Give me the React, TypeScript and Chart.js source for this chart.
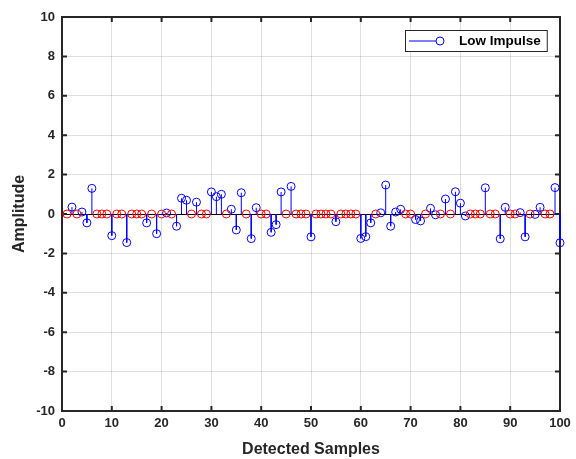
import React, { useEffect, useRef } from "react";
import { Chart, registerables } from "chart.js";

Chart.register(...registerables);

// ---- data ----
const sampleIndex = [
  1, 2, 3, 4, 5, 6, 7, 8, 9, 10,
  11, 12, 13, 14, 15, 16, 17, 18, 19, 20,
  21, 22, 23, 24, 25, 26, 27, 28, 29, 30,
  31, 32, 33, 34, 35, 36, 37, 38, 39, 40,
  41, 42, 43, 44, 45, 46, 47, 48, 49, 50,
  51, 52, 53, 54, 55, 56, 57, 58, 59, 60,
  61, 62, 63, 64, 65, 66, 67, 68, 69, 70,
  71, 72, 73, 74, 75, 76, 77, 78, 79, 80,
  81, 82, 83, 84, 85, 86, 87, 88, 89, 90,
  91, 92, 93, 94, 95, 96, 97, 98, 99, 100,
];

const amplitude = [
  0, 0.35, 0, 0.1, -0.45, 1.3, 0, 0, 0, -1.1,
  0, 0, -1.45, 0, 0, 0, -0.45, 0, -1.0, 0,
  0.05, 0, -0.62, 0.8, 0.7, 0, 0.6, 0, 0, 1.12,
  0.88, 1.0, 0, 0.24, -0.81, 1.08, 0, -1.25, 0.32, 0,
  0, -0.93, -0.54, 1.12, 0, 1.4, 0, 0, 0, -1.16,
  0, 0, 0, 0, -0.39, 0, 0, 0, 0, -1.24,
  -1.15, -0.45, 0, 0.06, 1.47, -0.62, 0.1, 0.24, 0, 0,
  -0.28, -0.35, 0, 0.29, -0.04, 0, 0.76, 0, 1.13, 0.55,
  -0.1, 0, 0, 0, 1.33, 0, 0, -1.26, 0.34, 0,
  0, 0.07, -1.16, 0, -0.02, 0.34, 0, 0, 1.34, -1.46,
];

const xTickValues = [0, 10, 20, 30, 40, 50, 60, 70, 80, 90, 100];
const yTickValues = [-10, -8, -6, -4, -2, 0, 2, 4, 6, 8, 10];
const legendLabel = "Low Impulse";
const xTitle = "Detected Samples";
const yTitle = "Amplitude";

// ---- styles ----
const BLUE = "#0000ff";
const RED = "#ff0000";
const AXIS = "#262626";
const GRID = "rgba(38,38,38,0.15)";
const FONT = '"Liberation Sans", Arial, Helvetica, sans-serif';
const MARKER_R = 4;

const framePlugin = {
  id: "matlabFrame",
  beforeDatasetsDraw(chart: any) {
    const { ctx, chartArea, scales } = chart;
    const { left, right, top, bottom } = chartArea;
    ctx.save();
    // zero baseline
    const y0 = scales.y.getPixelForValue(0);
    ctx.strokeStyle = "#000";
    ctx.lineWidth = 1;
    ctx.beginPath();
    ctx.moveTo(scales.x.getPixelForValue(0), Math.round(y0) + 0.5);
    ctx.lineTo(scales.x.getPixelForValue(100), Math.round(y0) + 0.5);
    ctx.stroke();
    // frame
    ctx.strokeStyle = AXIS;
    ctx.lineWidth = 2;
    ctx.strokeRect(left, top, right - left, bottom - top);
    // inward ticks
    const tl = 5;
    ctx.beginPath();
    xTickValues.forEach((v) => {
      const px = scales.x.getPixelForValue(v);
      ctx.moveTo(px, bottom);
      ctx.lineTo(px, bottom - tl);
      ctx.moveTo(px, top);
      ctx.lineTo(px, top + tl);
    });
    yTickValues.forEach((v) => {
      const py = scales.y.getPixelForValue(v);
      ctx.moveTo(left, py);
      ctx.lineTo(left + tl, py);
      ctx.moveTo(right, py);
      ctx.lineTo(right - tl, py);
    });
    ctx.stroke();
    ctx.restore();
  },
};

const legendPlugin = {
  id: "stemLegend",
  afterDraw(chart: any) {
    const { ctx, chartArea } = chart;
    ctx.save();
    ctx.font = `bold 13.5px ${FONT}`;
    const tw = ctx.measureText(legendLabel).width;
    const boxW = 54 + tw + 6;
    const boxH = 21;
    const right = chartArea.right - 13;
    const left = Math.round(right - boxW);
    const top = chartArea.top + 13;
    ctx.fillStyle = "#fff";
    ctx.fillRect(left, top, boxW, boxH);
    ctx.strokeStyle = AXIS;
    ctx.lineWidth = 1;
    ctx.strokeRect(left + 0.5, top + 0.5, boxW, boxH);
    const cy = top + boxH / 2 + 0.5;
    ctx.strokeStyle = BLUE;
    ctx.beginPath();
    ctx.moveTo(left + 4, cy);
    ctx.lineTo(left + 36, cy);
    ctx.stroke();
    ctx.beginPath();
    ctx.arc(left + 35, cy, MARKER_R, 0, Math.PI * 2);
    ctx.fillStyle = "#fff";
    ctx.fill();
    ctx.stroke();
    ctx.fillStyle = "#000";
    ctx.textBaseline = "middle";
    ctx.textAlign = "left";
    ctx.fillText(legendLabel, left + 54, cy + 0.5);
    ctx.restore();
  },
};

export default function App() {
  const canvasRef = useRef<HTMLCanvasElement | null>(null);

  useEffect(() => {
    document.body.style.margin = "0";
    const canvas = canvasRef.current;
    if (!canvas) return;

    const stemData: any[] = [];
    const bluePts: any[] = [];
    const redPts: any[] = [];
    sampleIndex.forEach((n, i) => {
      const v = amplitude[i];
      if (v !== 0) {
        stemData.push({ x: n, y: 0 }, { x: n, y: v }, { x: n, y: null });
        bluePts.push({ x: n, y: v });
      } else {
        redPts.push({ x: n, y: 0 });
      }
    });

    const chart = new Chart(canvas, {
      type: "scatter",
      data: {
        datasets: [
          {
            label: "stems",
            data: stemData,
            showLine: true,
            spanGaps: false,
            borderColor: BLUE,
            borderWidth: 1,
            pointRadius: 0,
            pointHoverRadius: 0,
            clip: false,
          } as any,
          {
            label: "zero",
            data: redPts,
            showLine: false,
            pointStyle: "circle",
            pointRadius: MARKER_R,
            pointBorderWidth: 1,
            pointBorderColor: RED,
            pointBackgroundColor: "rgba(0,0,0,0)",
            clip: false,
          } as any,
          {
            label: legendLabel,
            data: bluePts,
            showLine: false,
            pointStyle: "circle",
            pointRadius: MARKER_R,
            pointBorderWidth: 1,
            pointBorderColor: BLUE,
            pointBackgroundColor: "rgba(0,0,0,0)",
            clip: false,
          } as any,
        ],
      },
      options: {
        animation: false,
        responsive: false,
        devicePixelRatio: 1,
        layout: { padding: { left: 0, right: 16, top: 17, bottom: 0 } },
        plugins: {
          legend: { display: false },
          tooltip: { enabled: false },
        },
        scales: {
          x: {
            type: "linear",
            min: 0,
            max: 100,
            afterBuildTicks: (s: any) => {
              s.ticks = xTickValues.map((v) => ({ value: v }));
            },
            afterFit: (s: any) => {
              s.height = 48;
            },
            ticks: {
              color: AXIS,
              font: { family: FONT, size: 13, weight: "bold" },
              padding: 5,
              maxRotation: 0,
              autoSkip: false,
            },
            grid: { color: GRID, drawTicks: false, lineWidth: 1 },
            border: { display: false },
            title: {
              display: true,
              text: xTitle,
              color: AXIS,
              font: { family: FONT, size: 16, weight: "bold", lineHeight: 1 },
              padding: { top: 0, bottom: 1 },
            },
          },
          y: {
            type: "linear",
            min: -10,
            max: 10,
            afterBuildTicks: (s: any) => {
              s.ticks = yTickValues.map((v) => ({ value: v }));
            },
            afterFit: (s: any) => {
              s.width = 62;
            },
            ticks: {
              color: AXIS,
              font: { family: FONT, size: 13, weight: "bold" },
              padding: 7,
              autoSkip: false,
            },
            grid: { color: GRID, drawTicks: false, lineWidth: 1 },
            border: { display: false },
            title: {
              display: true,
              text: yTitle,
              color: AXIS,
              font: { family: FONT, size: 16, weight: "bold" },
              padding: { top: 10, bottom: 0 },
            },
          },
        },
      } as any,
      plugins: [framePlugin, legendPlugin],
    });

    return () => {
      chart.destroy();
    };
  }, []);

  return (
    <div style={{ width: 576, height: 459, background: "#fff" }}>
      <canvas ref={canvasRef} width={576} height={459} style={{ display: "block" }} />
    </div>
  );
}
